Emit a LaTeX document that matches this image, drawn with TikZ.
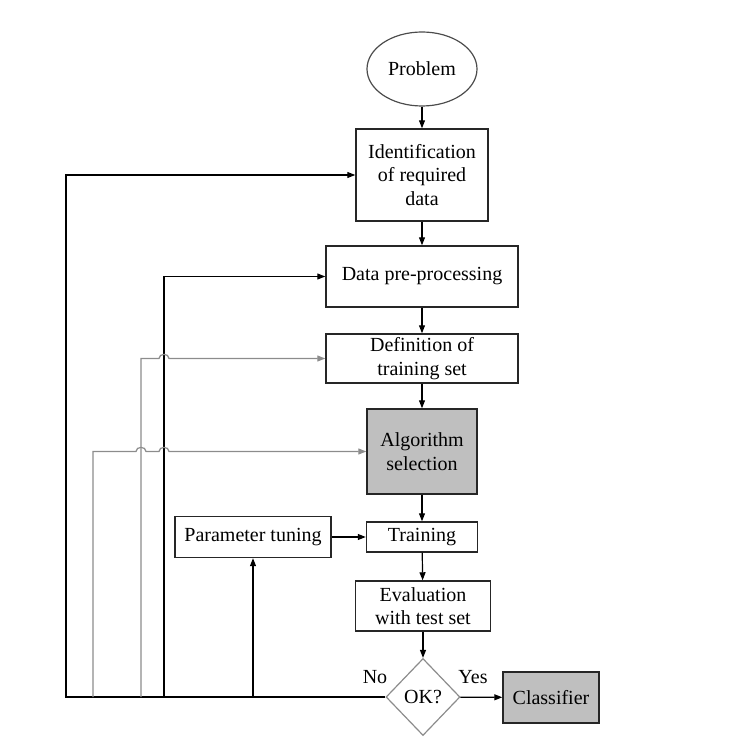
\documentclass[tikz,border=0pt]{standalone}
\usepackage{fontspec}
\setmainfont{Liberation Serif}
\usetikzlibrary{arrows.meta,shapes.geometric}

\tikzset{every picture/.style={line width=0.75pt}}
\tikzset{
  flowbox/.style={draw=black!85, line width=1.1pt, align=center, inner sep=0pt, font=\fontsize{15}{17.6}\selectfont},
  greybox/.style={flowbox, fill=black!25},
  flow/.style={draw=black, line width=0.9pt, -{Triangle[length=6pt,width=4.5pt]}},
  greyflow/.style={flow, draw=black!45},
  lbl/.style={inner sep=0.75pt, font=\fontsize{15}{17.6}\selectfont}
}

\begin{document}
\begin{tikzpicture}[x=0.75pt,y=0.75pt,yscale=-1,xscale=1]
\useasboundingbox (0,0) rectangle (749,745);

%Shape: Ellipse [id:problem]
\node [flowbox, ellipse, draw=black!70, line width=0.9pt, minimum width=82.5pt, minimum height=55.5pt] (prob) at (422,69) {Problem};
%Shape: Rectangle [id:ident]
\node [flowbox, minimum width=99pt, minimum height=69pt] (ident) at (422,175) {Identification\\of required\\data};
%Shape: Rectangle [id:prep]
\node [flowbox, minimum width=144pt, minimum height=45.75pt] (prep) at (422,276.5) {Data pre-processing};
%Shape: Rectangle [id:defn]
\node [flowbox, minimum width=144pt, minimum height=36.75pt] (defn) at (422,358.5) {Definition of\\training set};
%Shape: Rectangle [id:algo]
\node [greybox, minimum width=82.5pt, minimum height=63.75pt] (algo) at (422,451.5) {Algorithm\\selection};
%Shape: Rectangle [id:train]
\node [flowbox, minimum width=83.25pt, minimum height=22.5pt] (train) at (422,537) {Training};
%Shape: Rectangle [id:tune]
\node [flowbox, minimum width=117pt, minimum height=30.75pt] (tune) at (253,537) {Parameter tuning};
%Shape: Rectangle [id:eval]
\node [flowbox, minimum width=101.25pt, minimum height=37.5pt] (eval) at (423,606) {Evaluation\\with test set};
%Shape: Diamond [id:ok]
\node [flowbox, diamond, draw=black!45, line width=0.9pt, minimum width=55.5pt, minimum height=57.75pt] (ok) at (423,697) {OK?};
%Shape: Rectangle [id:cls]
\node [greybox, minimum width=72pt, minimum height=38.25pt] (cls) at (551,697.5) {Classifier};

% Text Node
\node [lbl] (no) at (375,677) {No};
% Text Node
\node [lbl] (yes) at (473,677) {Yes};

%Coordinates on the bottom line
\coordinate (b1) at (66,697);
\coordinate (b2) at (164,697);
\coordinate (b3) at (141,697);
\coordinate (b4) at (93,697);
\coordinate (b5) at (253,697);

%Straight Lines [main chain]
\draw [flow] (prob) -- (ident);
\draw [flow] (ident) -- (prep);
\draw [flow] (prep) -- (defn);
\draw [flow] (defn) -- (algo);
\draw [flow] (algo) -- (train);
\draw [flow] (train) -- (eval);
\draw [flow] (eval) -- (ok);
\draw [flow] (ok) -- (cls);
\draw [flow] (tune) -- (train);

%Straight Lines [feedback loops]
\draw [flow] (ok.west) -- (b1) |- (ident.west);
\draw [flow] (b2) |- (prep.west);
\draw [flow] (b5) -- (tune.south);
\draw [greyflow] (b3) -- (141,358.5) -- (159,358.5) .. controls (159,353) and (169,353) .. (169,358.5) -- (defn.west);
\draw [greyflow] (b4) -- (93,451.5) -- (136,451.5) .. controls (136,446) and (146,446) .. (146,451.5) -- (159,451.5) .. controls (159,446) and (169,446) .. (169,451.5) -- (algo.west);

\end{tikzpicture}
\end{document}
